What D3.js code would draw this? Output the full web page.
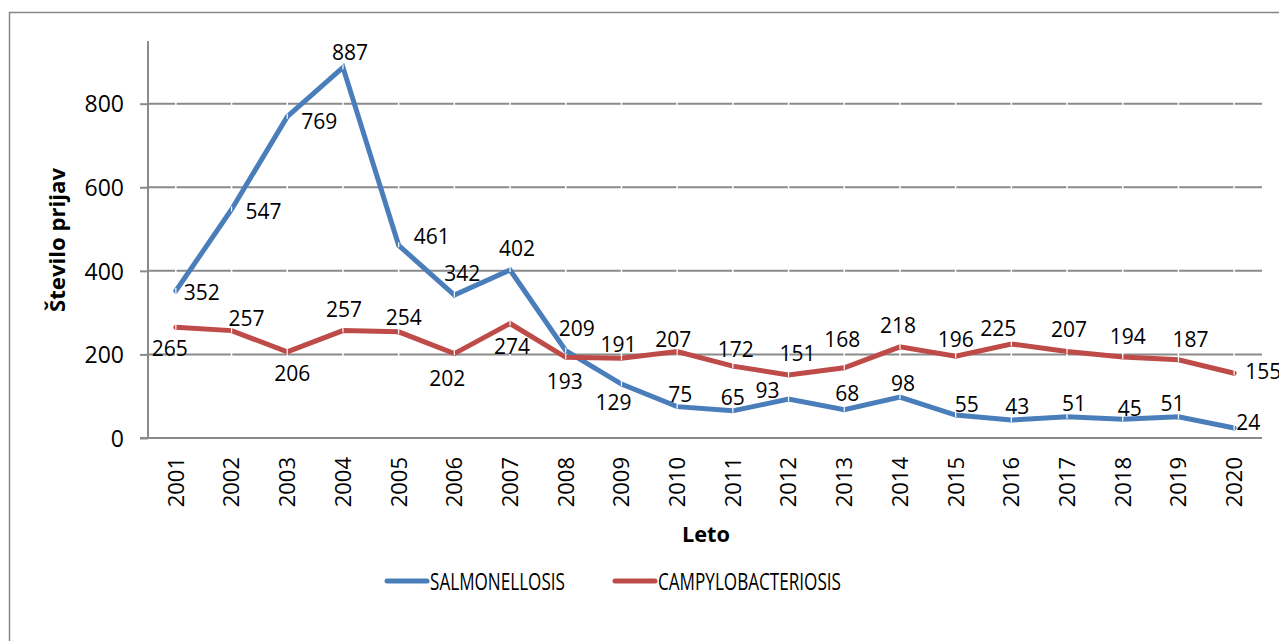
<!DOCTYPE html>
<html>
<head>
<meta charset="utf-8">
<script src="https://cdn.jsdelivr.net/npm/d3@7"></script>
<style>
  body { margin: 0; background: #fff; }
  svg text { font-family: "Open Sans", sans-serif; fill: #000; }
</style>
</head>
<body>
<div id="chart"></div>
<script>
// data
const years = ["2001","2002","2003","2004","2005","2006","2007","2008","2009","2010",
               "2011","2012","2013","2014","2015","2016","2017","2018","2019","2020"];
const salmonellosis = [352,547,769,887,461,342,402,209,129,75,65,93,68,98,55,43,51,45,51,24];
const campylobacteriosis = [265,257,206,257,254,202,274,193,191,207,172,151,168,218,196,225,207,194,187,155];
const yTicks = [0,200,400,600,800];
const seriesNames = ["SALMONELLOSIS","CAMPYLOBACTERIOSIS"];

// label nudges (dx, dy from the point), as placed in the original
const salmNudge = [[26,2],[32,2],[32,5],[7,-15],[33,-9],[8,-22],[7,-22],[11,-22],[-8,18],[3,-12],
                   [0,-13],[-21,-9],[3,-16],[3,-14],[11,-11],[6,-14],[7,-13],[7,-11],[-6,-13],[14,-6]];
const campyNudge = [[-6,21],[15,-12],[5,22],[1,-21],[5,-14],[-7,25],[2,23],[-1,24],[-3,-14],[-4,-12],
                    [3,-17],[9,-21],[-2,-28],[-2,-21],[0,-17],[-13,-16],[2,-22],[5,-20],[12,-20],[29,-2]];

const width = 1279, height = 641;
const plotL = 148, plotR = 1262, plotT = 41, plotB = 438;

const svg = d3.select("#chart").append("svg")
  .attr("width", width).attr("height", height);

// outer frame
svg.append("rect")
  .attr("x", 9.5).attr("y", 12.5)
  .attr("width", 1300).attr("height", 700)
  .attr("fill", "none").attr("stroke", "#878787").attr("stroke-width", 1.5);

const x = d3.scaleBand().domain(years).range([plotL, plotR]);
const cx = d => x(d) + x.bandwidth() / 2;
const y = d3.scaleLinear().domain([0, 950]).range([plotB, plotT]);

// gridlines
svg.append("g")
  .selectAll("line")
  .data(yTicks.filter(t => t > 0))
  .enter().append("line")
  .attr("x1", plotL).attr("x2", plotR)
  .attr("y1", d => y(d)).attr("y2", d => y(d))
  .attr("stroke", "#8a8a8a").attr("stroke-width", 2);

// little white breaks at every category
svg.append("g")
  .selectAll("line")
  .data(years)
  .enter().append("line")
  .attr("x1", d => cx(d)).attr("x2", d => cx(d))
  .attr("y1", plotT).attr("y2", plotB - 2)
  .attr("stroke", "#fff").attr("stroke-width", 1.5);

// y axis
const yAxis = svg.append("g")
  .attr("transform", `translate(${plotL},0)`)
  .call(d3.axisLeft(y).tickValues(yTicks).tickSize(8).tickPadding(16).tickFormat(d3.format("d")));
yAxis.select(".domain").attr("stroke", "#8a8a8a").attr("stroke-width", 2)
  .attr("d", `M0,${plotT}V${plotB}`);
yAxis.selectAll(".tick line").attr("stroke", "#8a8a8a").attr("stroke-width", 2);
yAxis.selectAll(".tick text").attr("font-size", 23).attr("font-family", "Open Sans").attr("dy", "0.36em");

// x axis
const xAxis = svg.append("g")
  .attr("transform", `translate(0,${plotB})`)
  .call(d3.axisBottom(x).tickSize(0).tickPadding(0));
xAxis.select(".domain").attr("stroke", "#8a8a8a").attr("stroke-width", 2)
  .attr("d", `M${plotL - 8},0H${plotR}`);
xAxis.selectAll(".tick text")
  .attr("font-size", 22).attr("font-family", "Open Sans")
  .attr("text-anchor", "end")
  .attr("transform", "translate(0,19) rotate(-90)")
  .attr("x", 0).attr("y", 0).attr("dy", "0.36em");

// axis titles
svg.append("text")
  .attr("x", 706).attr("y", 542)
  .attr("text-anchor", "middle")
  .attr("font-size", 21).attr("font-weight", "bold")
  .attr("textLength", 48).attr("lengthAdjust", "spacingAndGlyphs")
  .text("Leto");

svg.append("text")
  .attr("transform", "translate(65,240) rotate(-90)")
  .attr("text-anchor", "middle")
  .attr("font-size", 21).attr("font-weight", "bold")
  .attr("textLength", 144).attr("lengthAdjust", "spacingAndGlyphs")
  .text("Število prijav");

// series
const series = [
  {name: seriesNames[0], values: salmonellosis, nudge: salmNudge, color: "#4a7ebb"},
  {name: seriesNames[1], values: campylobacteriosis, nudge: campyNudge, color: "#be4b48"}
];

const line = d3.line()
  .x((d, i) => cx(years[i]))
  .y(d => y(d));

series.forEach(s => {
  svg.append("path")
    .datum(s.values)
    .attr("d", line)
    .attr("fill", "none")
    .attr("stroke", s.color)
    .attr("stroke-width", 5)
    .attr("stroke-linejoin", "miter")
    .attr("stroke-linecap", "round");

  // tiny white marks at the points
  svg.append("g")
    .selectAll("line")
    .data(s.values)
    .enter().append("line")
    .attr("x1", (d, i) => cx(years[i])).attr("x2", (d, i) => cx(years[i]))
    .attr("y1", d => y(d) - 3).attr("y2", d => y(d) + 2)
    .attr("stroke", "#fff").attr("stroke-width", 1.2);
});

series.forEach(s => {
  svg.append("g")
    .selectAll("text")
    .data(s.values)
    .enter().append("text")
    .attr("x", (d, i) => cx(years[i]) + s.nudge[i][0])
    .attr("y", (d, i) => y(d) + s.nudge[i][1])
    .attr("dy", "0.36em")
    .attr("text-anchor", "middle")
    .attr("font-size", 21)
    .text(d => d);
});

// legend
const legend = svg.append("g");
const legendItems = [
  {name: seriesNames[0], color: series[0].color, x: 387, w: 135},
  {name: seriesNames[1], color: series[1].color, x: 615, w: 183}
];
legendItems.forEach(it => {
  legend.append("line")
    .attr("x1", it.x).attr("x2", it.x + 40)
    .attr("y1", 581).attr("y2", 581)
    .attr("stroke", it.color).attr("stroke-width", 5)
    .attr("stroke-linecap", "round");
  legend.append("text")
    .attr("x", it.x + 43).attr("y", 581)
    .attr("dy", "0.36em")
    .attr("font-size", 24)
    .attr("textLength", it.w).attr("lengthAdjust", "spacingAndGlyphs")
    .text(it.name);
});
</script>
</body>
</html>
